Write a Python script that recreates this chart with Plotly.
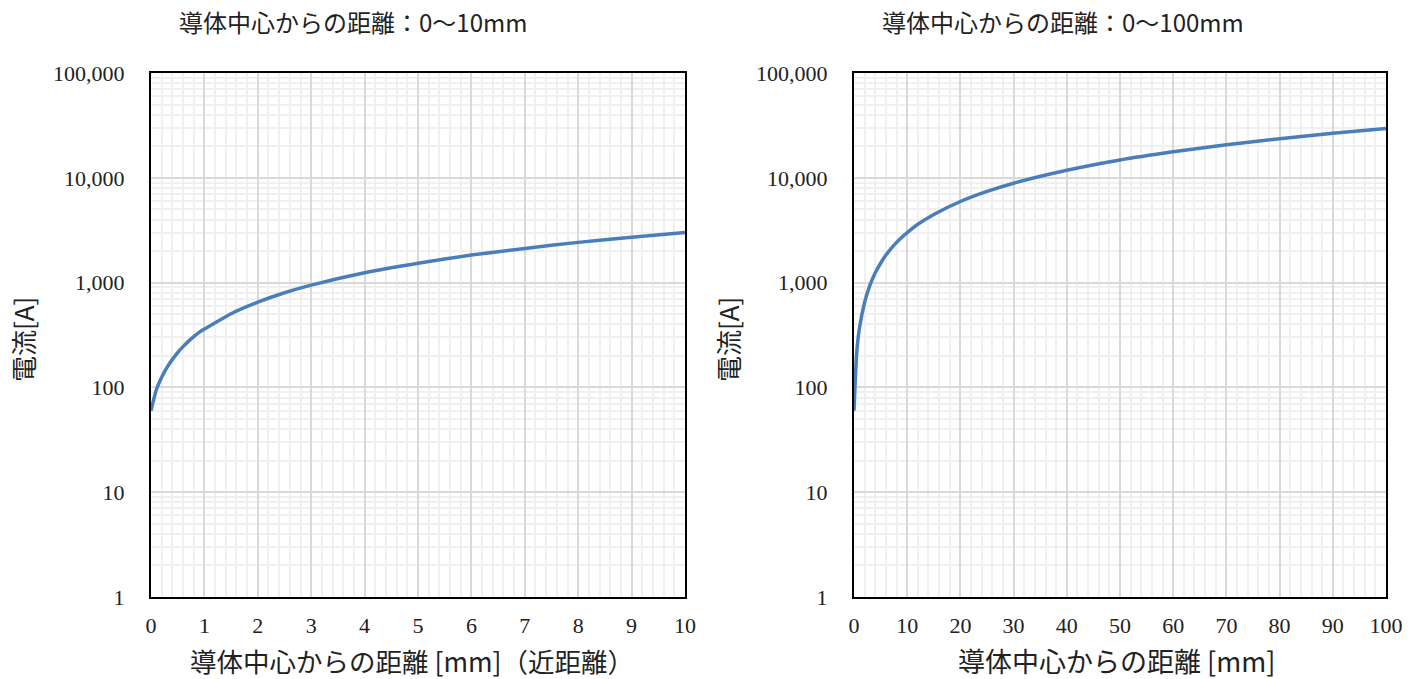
import plotly.graph_objects as go

# --- data ---
near_x_mm = [0, 0.1, 0.2, 0.3, 0.4, 0.5, 0.6, 0.7, 0.8, 0.9, 1.0,
             1.5, 2, 2.5, 3, 4, 5, 6, 7, 8, 9, 10]
near_current_a = [60, 95, 125, 155, 185, 215, 245, 275, 305, 335, 360,
                  505, 650, 800, 945, 1240, 1530, 1830, 2120, 2420, 2710, 3000]

far_x_mm = [0, 0.5, 1, 2, 3, 4, 5, 6, 7, 8, 9, 10, 12, 15, 20, 25, 30,
            40, 50, 60, 70, 80, 90, 100]
far_current_a = [60, 210, 360, 650, 945, 1240, 1530, 1830, 2120, 2420, 2710, 3000,
                 3600, 4470, 5940, 7410, 8880, 11800, 14800, 17700, 20700, 23600, 26600, 29500]

y_tick_vals = [1, 10, 100, 1000, 10000, 100000]
y_tick_text = ["1", "10", "100", "1,000", "10,000", "100,000"]
near_x_ticks = list(range(0, 11))
far_x_ticks = list(range(0, 101, 10))

titles = ["導体中心からの距離：0～10mm", "導体中心からの距離：0～100mm"]
x_titles = ["導体中心からの距離 [mm]（近距離）", "導体中心からの距離 [mm]"]
y_title = "電流[A]"

W, H = 1423, 679
JP = "Noto Sans CJK JP"
SERIF = "Liberation Serif"
LINE_COLOR = "#4a7ebb"
MAJOR = "#d9d9d9"
MINOR = "#f0f0f0"
TXT = "#222222"

fig = go.Figure()
fig.add_trace(go.Scatter(x=near_x_mm, y=near_current_a, mode="lines",
                         line=dict(color=LINE_COLOR, width=3.5, shape="spline", smoothing=0.6),
                         xaxis="x", yaxis="y", showlegend=False))
fig.add_trace(go.Scatter(x=far_x_mm, y=far_current_a, mode="lines",
                         line=dict(color=LINE_COLOR, width=3.5, shape="spline", smoothing=0.6),
                         xaxis="x2", yaxis="y2", showlegend=False))


def px(v):
    return v / W


def py(v):
    return 1 - v / H


ydom = [py(597), py(73)]

common_x = dict(showline=True, linecolor="black", linewidth=2, mirror=True,
                showgrid=True, gridcolor=MAJOR, gridwidth=1.5, zeroline=False,
                tickfont=dict(family=SERIF, size=22, color=TXT),
                ticks="", ticklabelstandoff=8)
common_y = dict(type="log", range=[0, 5], showline=True, linecolor="black", linewidth=2,
                mirror=True, showgrid=True, gridcolor=MAJOR, gridwidth=1.5, zeroline=False,
                tickvals=y_tick_vals, ticktext=y_tick_text,
                tickfont=dict(family=SERIF, size=22, color=TXT),
                ticks="", ticklabelstandoff=20,
                minor=dict(dtick="D1", showgrid=True, gridcolor=MINOR, gridwidth=1.5))

fig.update_layout(
    width=W, height=H, margin=dict(l=0, r=0, t=0, b=0, autoexpand=False),
    paper_bgcolor="white", plot_bgcolor="white",
    xaxis=dict(domain=[px(151), px(685)], range=[0, 10], tickvals=near_x_ticks,
               anchor="y",
               minor=dict(dtick=0.2, showgrid=True, gridcolor=MINOR, gridwidth=1.5),
               **common_x),
    yaxis=dict(domain=ydom, anchor="x", **common_y),
    xaxis2=dict(domain=[px(854), px(1386)], range=[0, 100], tickvals=far_x_ticks,
                anchor="y2",
                minor=dict(dtick=2, showgrid=True, gridcolor=MINOR, gridwidth=1.5),
                **common_x),
    yaxis2=dict(domain=ydom, anchor="x2", **common_y),
)


def label(text, x, y, size, angle=0):
    return dict(text=text, x=px(x), y=py(y), xref="paper", yref="paper",
                xanchor="center", yanchor="middle", textangle=angle,
                showarrow=False, font=dict(family=JP, size=size, color=TXT))


ann = [
    label(titles[0], 353, 22, 24),
    label(titles[1], 1063, 22, 24),
    label(x_titles[0], 412, 660, 26.5),
    label(x_titles[1], 1116, 660, 27),
    label(y_title, 22, 340, 26, -90),
    label(y_title, 727, 340, 26, -90),
]
fig.update_layout(annotations=ann)

fig.write_html("out.html", config={"displayModeBar": False},
               post_script="document.body.style.margin='0';document.body.style.overflow='hidden';")
